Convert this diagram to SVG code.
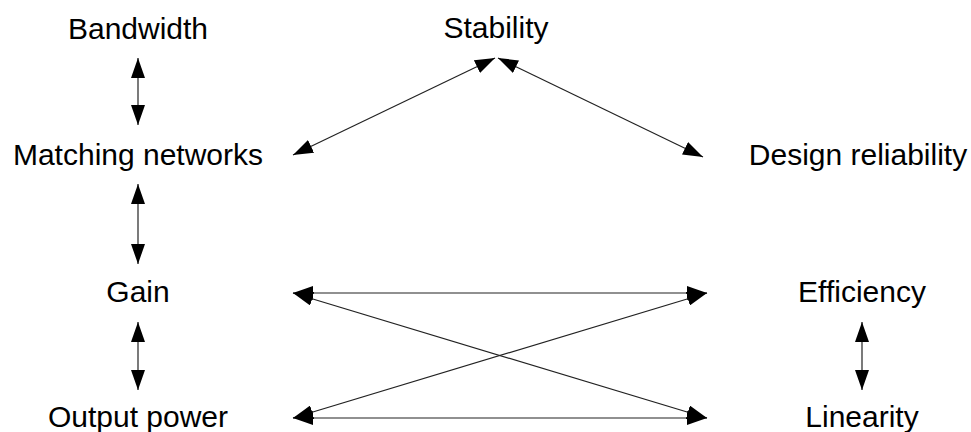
<svg xmlns="http://www.w3.org/2000/svg" width="971" height="432" viewBox="0 0 971 432">
<style>
text{font-family:"Liberation Sans",Arial,sans-serif;font-size:30px;fill:#000;text-anchor:middle}
.c line{stroke:#222;stroke-width:1.2;marker-start:url(#ah);marker-end:url(#ah)}
</style>
<defs>
<marker id="ah" markerUnits="userSpaceOnUse" markerWidth="20" markerHeight="14" refX="20" refY="7" orient="auto-start-reverse" viewBox="0 0 20 14">
<path d="M0,0 L20,7 L0,14 z" fill="#000"/>
</marker>
</defs>
<rect width="971" height="432" fill="#fff"/>
<g id="bandwidth"><text x="138" y="39">Bandwidth</text></g>
<g id="stability"><text x="496" y="38">Stability</text></g>
<g id="matching"><text x="138" y="165">Matching networks</text></g>
<g id="reliability"><text x="858" y="165">Design reliability</text></g>
<g id="gain"><text x="138" y="302">Gain</text></g>
<g id="efficiency"><text x="862" y="302">Efficiency</text></g>
<g id="output"><text x="138" y="427">Output power</text></g>
<g id="linearity"><text x="862" y="427">Linearity</text></g>
<g class="c" id="connectors">
<line x1="138" y1="58" x2="138" y2="125"/>
<line x1="138" y1="184" x2="138" y2="264"/>
<line x1="138" y1="322" x2="138" y2="390"/>
<line x1="862" y1="322" x2="862" y2="390"/>
<line x1="495" y1="58" x2="293" y2="155"/>
<line x1="498" y1="58" x2="703" y2="157"/>
<line x1="293" y1="293" x2="707" y2="293"/>
<line x1="293" y1="418" x2="707" y2="418"/>
<line x1="293" y1="293" x2="707" y2="418"/>
<line x1="293" y1="418" x2="707" y2="293"/>
</g>
</svg>
